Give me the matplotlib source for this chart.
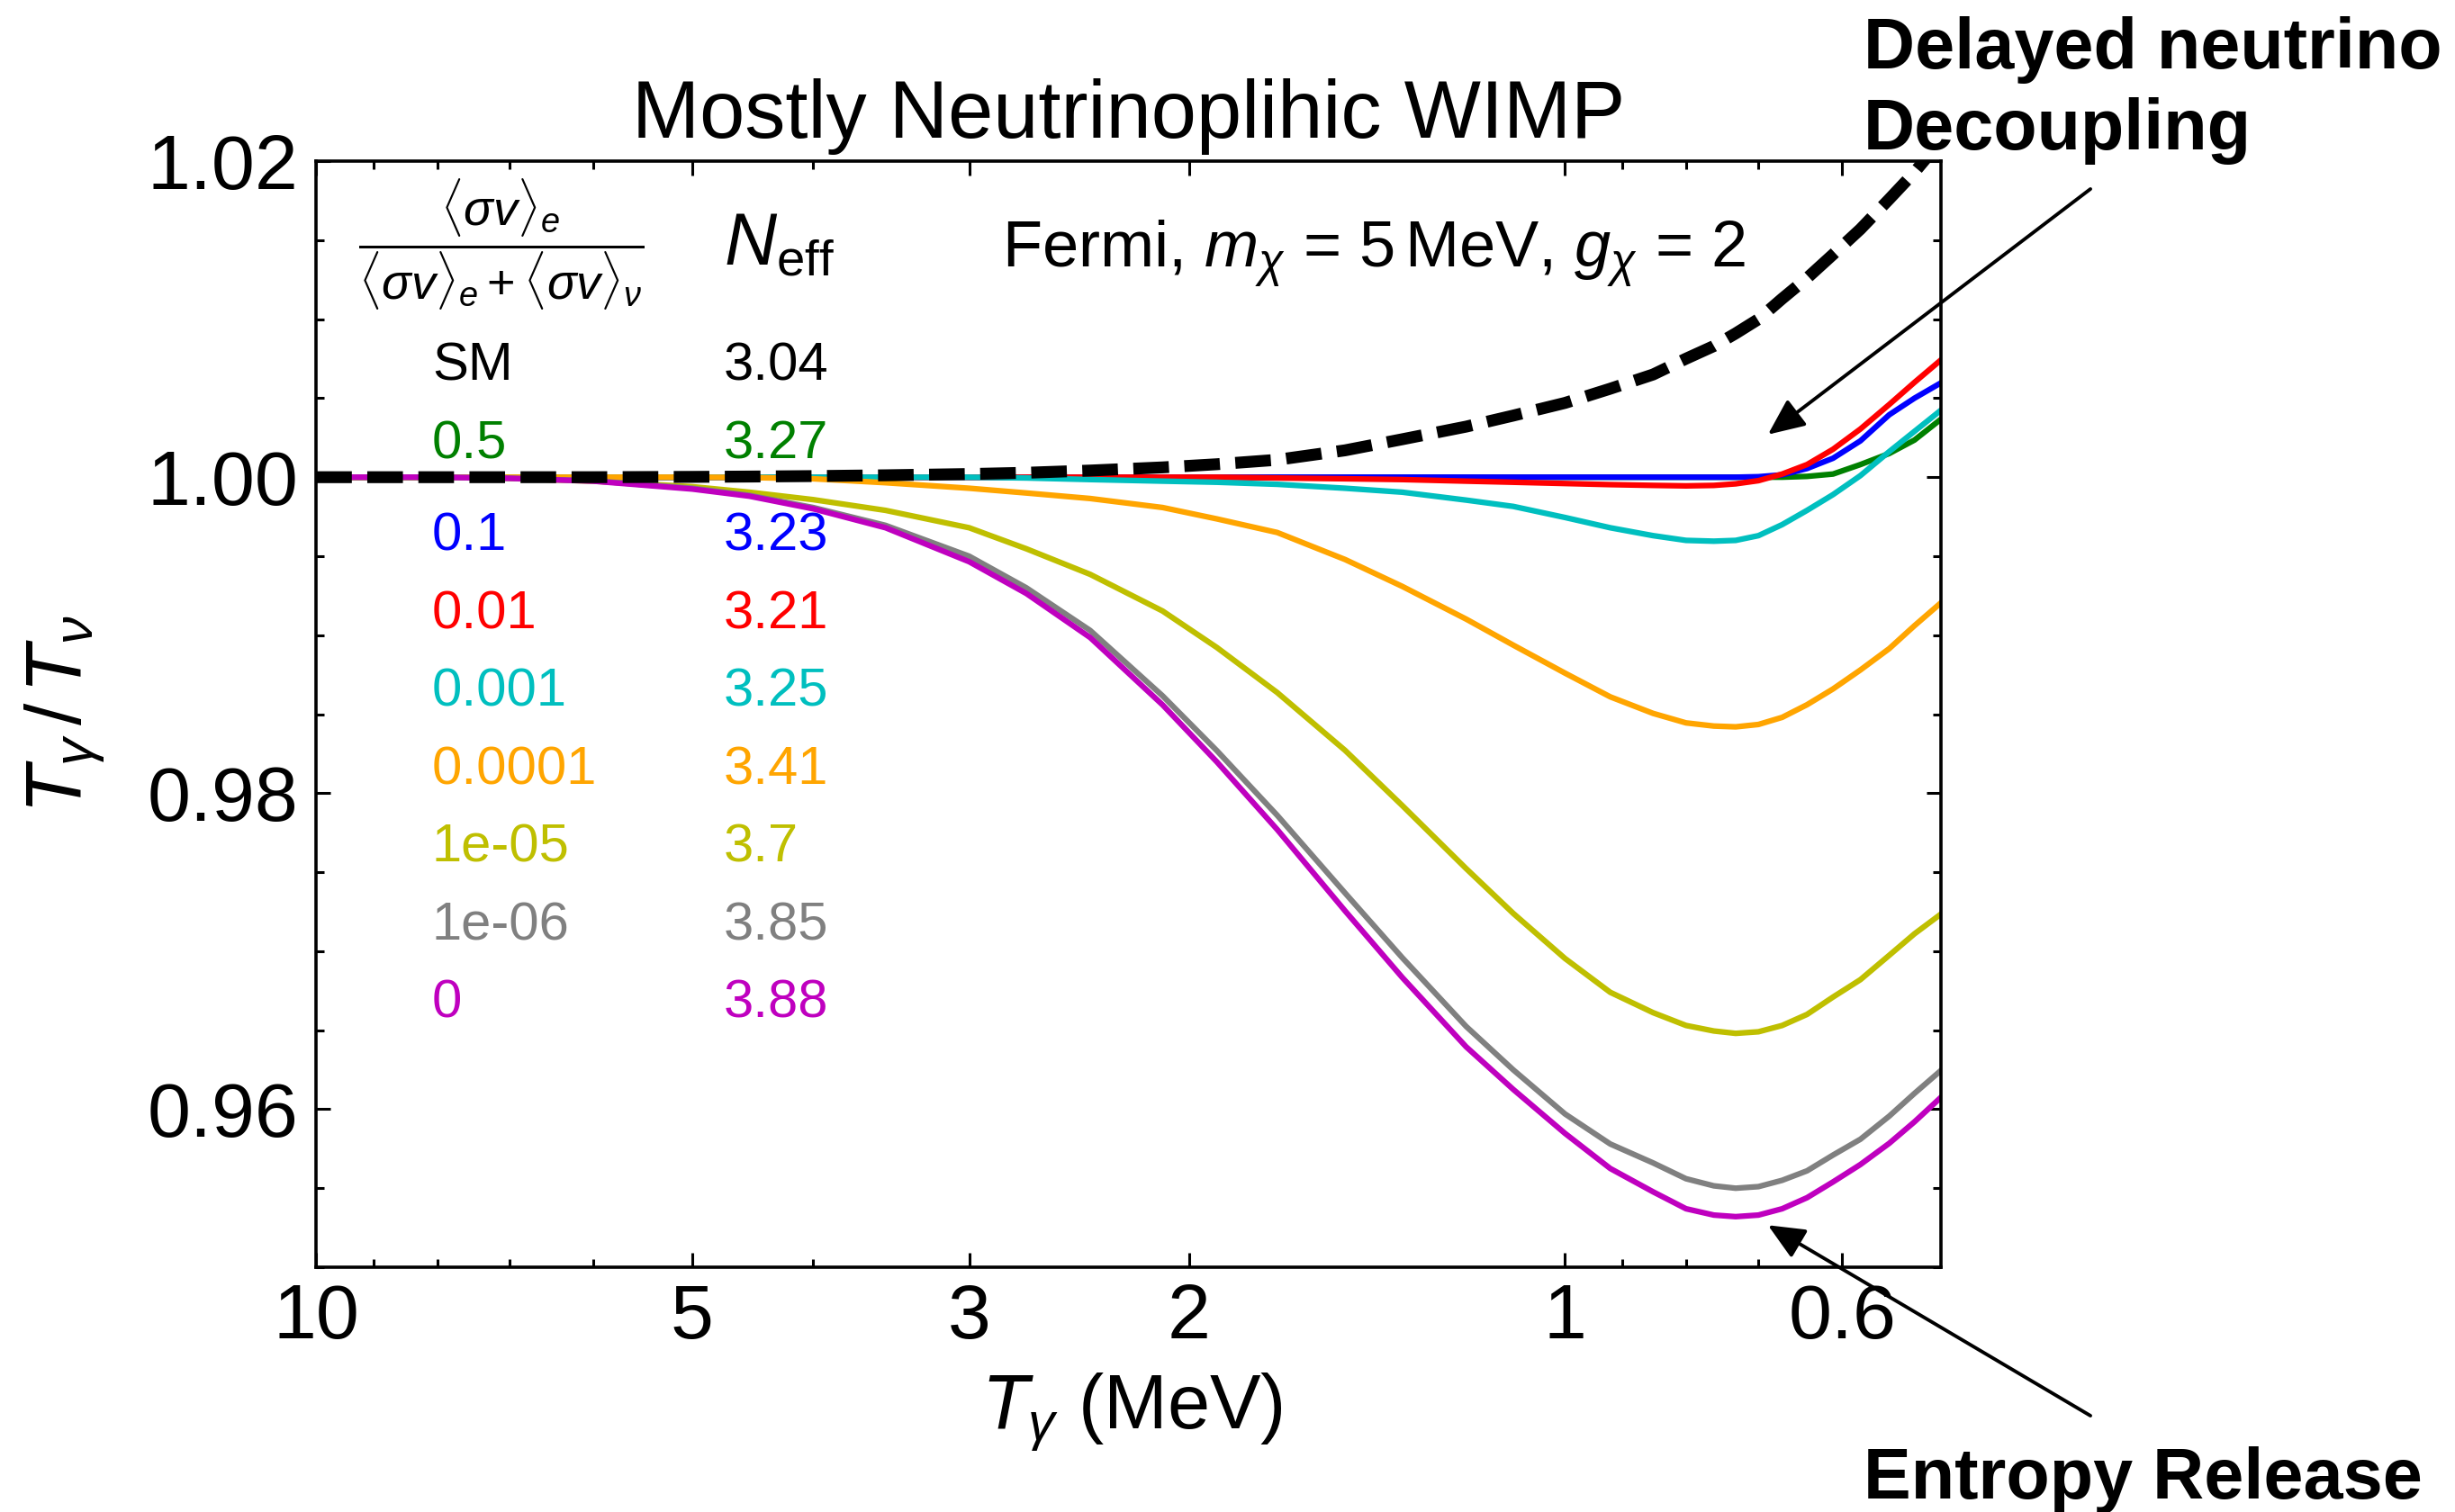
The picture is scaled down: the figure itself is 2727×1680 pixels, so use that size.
import matplotlib
matplotlib.use("Agg")
import matplotlib.pyplot as plt
from matplotlib.ticker import FixedLocator, NullFormatter, MultipleLocator

plt.rcParams["font.family"] = ["Liberation Sans", "DejaVu Sans"]
plt.rcParams["mathtext.fontset"] = "custom"
plt.rcParams["mathtext.rm"] = "Liberation Sans"
plt.rcParams["mathtext.it"] = "Liberation Sans:italic"
plt.rcParams["mathtext.bf"] = "Liberation Sans:bold"

# photon temperature (MeV)
T_gamma = [10, 8, 7, 6, 5, 4.5, 4, 3.5, 3, 2.7, 2.4, 2.1, 1.9, 1.7, 1.5, 1.35,
           1.2, 1.1, 1.0, 0.92, 0.85, 0.8, 0.76, 0.73, 0.7, 0.67, 0.64, 0.61,
           0.58, 0.55, 0.525, 0.5]

ratio_sm = [1.0, 1.0, 1.0, 1.0, 1.00002, 1.00004, 1.00007, 1.00012, 1.0002,
            1.00028, 1.00042, 1.00062, 1.00082, 1.0011, 1.0017, 1.0024, 1.0032,
            1.0039, 1.0047, 1.0056, 1.0065, 1.0075, 1.0083, 1.0091, 1.01,
            1.0113, 1.0126, 1.0141, 1.0157, 1.0176, 1.0193, 1.0213]
ratio_0p5 = [1.0] * 26 + [1.00005, 1.0002, 1.0008, 1.0015, 1.00235, 1.00367]
ratio_0p1 = [1.0] * 24 + [1.00003, 1.00015, 1.00055, 1.0012, 1.0023, 1.00395,
                          1.005, 1.00597]
ratio_1em2 = [1.0] * 13 + [0.99995, 0.9999, 0.99985, 0.99975, 0.99968, 0.9996,
                           0.99953, 0.99948, 0.99945, 0.99948, 0.99958, 0.99978,
                           1.0002, 1.0008, 1.00177, 1.00305, 1.0046, 1.006,
                           1.00742]
ratio_1em3 = [1.0] * 9 + [0.99995, 0.99985, 0.99975, 0.99968, 0.99955, 0.9993,
                          0.99905, 0.99855, 0.99815, 0.99745, 0.9968, 0.9963,
                          0.996, 0.99595, 0.996, 0.9963, 0.997, 0.9979, 0.9989,
                          1.0001, 1.00162, 1.0029, 1.00424]
ratio_1em4 = [1.0] * 5 + [0.99998, 0.9999, 0.99965, 0.9993, 0.999, 0.99865,
                          0.99808, 0.99736, 0.9965, 0.99479, 0.99309, 0.99102,
                          0.98937, 0.9876, 0.9861, 0.98505, 0.98445, 0.98425,
                          0.9842, 0.98435, 0.9848, 0.9856, 0.9866, 0.9878,
                          0.98915, 0.9906, 0.99205]
ratio_1em5 = [1.0, 1.0, 0.99992, 0.99975, 0.9994, 0.99905, 0.99858, 0.9979,
              0.9968, 0.99547, 0.99385, 0.99153, 0.98922, 0.98637, 0.98271,
              0.97922, 0.97523, 0.97239, 0.96954, 0.9674, 0.96611, 0.9653,
              0.96495, 0.9648, 0.9649, 0.9653, 0.966, 0.9671, 0.9682, 0.96974,
              0.9711, 0.97235]
ratio_1em6 = [1.0, 1.0, 0.99993, 0.99977, 0.9993, 0.99885, 0.99808, 0.99695,
              0.995, 0.993, 0.9903, 0.98616, 0.98269, 0.9786, 0.97368, 0.96959,
              0.96524, 0.96249, 0.9597, 0.9578, 0.9566, 0.9556, 0.95515, 0.955,
              0.9551, 0.9555, 0.9561, 0.9571, 0.9581, 0.95956, 0.961, 0.96245]
ratio_zero = [1.0, 1.0, 0.99993, 0.99975, 0.99925, 0.9988, 0.998, 0.9968,
              0.99465, 0.99264, 0.98985, 0.98559, 0.98198, 0.9777, 0.97255,
              0.96834, 0.96395, 0.96125, 0.95847, 0.95625, 0.95477, 0.9537,
              0.9533, 0.9532, 0.9533, 0.9537, 0.9544, 0.9554, 0.9565, 0.95784,
              0.9592, 0.96075]

fractions = ["SM", "0.5", "0.1", "0.01", "0.001", "0.0001", "1e-05", "1e-06", "0"]
neff = ["3.04", "3.27", "3.23", "3.21", "3.25", "3.41", "3.7", "3.85", "3.88"]
series = [ratio_sm, ratio_0p5, ratio_0p1, ratio_1em2, ratio_1em3, ratio_1em4,
          ratio_1em5, ratio_1em6, ratio_zero]
colors = ["k", "g", "b", "r", "c", "orange", "y", "gray", "m"]
row_y = [0.8144, 0.7437, 0.6608, 0.5902, 0.5198, 0.4490, 0.3793, 0.3088, 0.2385]

fig = plt.figure(figsize=(27.27, 16.8), dpi=100)
ax = fig.add_axes([0.1288, 0.1619, 0.6618, 0.7315])

for vals, col in zip(series[1:], colors[1:]):
    ax.plot(T_gamma, vals, color=col, lw=4.5, solid_joinstyle="round")
ax.plot(T_gamma, ratio_sm, color="k", lw=9.5, ls=(0, (3.0, 1.3)), zorder=5)

ax.set_xscale("log")
ax.set_xlim(10, 0.5)
ax.set_ylim(0.95, 1.02)
ax.xaxis.set_major_locator(FixedLocator([10, 5, 3, 2, 1, 0.6]))
ax.set_xticklabels(["10", "5", "3", "2", "1", "0.6"])
ax.xaxis.set_minor_locator(FixedLocator([9, 8, 7, 6, 4, 0.9, 0.8, 0.7]))
ax.xaxis.set_minor_formatter(NullFormatter())
ax.set_yticks([0.96, 0.98, 1.00, 1.02])
ax.set_yticklabels(["0.96", "0.98", "1.00", "1.02"])
ax.yaxis.set_minor_locator(MultipleLocator(0.005))

ax.tick_params(which="both", direction="in", top=True, right=True, width=2.2)
ax.tick_params(which="major", length=11.5, labelsize=62)
ax.tick_params(which="minor", length=6.5)
ax.tick_params(axis="y", pad=14)
ax.tick_params(axis="x", pad=12)
for sp in ax.spines.values():
    sp.set_linewidth(2.6)

ax.set_title("Mostly Neutrinoplihic WIMP", fontsize=65, pad=19)
ax.set_xlabel(r"$T_\gamma$ (MeV)", fontsize=61)
ax.xaxis.set_label_coords(0.502, -0.094)
ax.set_ylabel(r"$T_\gamma\,/\,T_\nu$", fontsize=63)
ax.yaxis.set_label_coords(-0.128, 0.5)

# legend table
ax.text(0.1137, 0.925,
        r"$\dfrac{\langle\sigma v\rangle_e}{\langle\sigma v\rangle_e"
        r"+\langle\sigma v\rangle_\nu}$",
        transform=ax.transAxes, fontsize=39, ha="center", va="center")
ax.text(0.2506, 0.9227, r"$N_{\rm eff}$", transform=ax.transAxes,
        fontsize=58, ha="left", va="center")
for lab, ne, col, yy in zip(fractions, neff, colors, row_y):
    ax.text(0.0713, yy, lab, color=col, fontsize=43, transform=ax.transAxes,
            ha="left", va="center")
    ax.text(0.2506, yy, ne, color=col, fontsize=43, transform=ax.transAxes,
            ha="left", va="center")

ax.text(0.422, 0.9165, r"Fermi, $m_\chi$ = 5$\,$MeV, $g_\chi$ = 2",
        transform=ax.transAxes, fontsize=52, ha="left", va="center")

# annotations
fig.text(0.759, 0.9895, "Delayed neutrino\nDecoupling", fontsize=57,
         fontweight="bold", ha="left", va="top", linespacing=1.27)
fig.text(0.759, 0.0089, "Entropy Release", fontsize=57, fontweight="bold",
         ha="left", va="baseline")
arrow = dict(arrowstyle="-|>,head_length=0.45,head_width=0.2", lw=2.8,
             color="k", mutation_scale=55, shrinkA=0, shrinkB=0)
ax.annotate("", xy=(0.6878, 1.0027), xycoords="data",
            xytext=(0.8515, 1 - 210 / 1680), textcoords="figure fraction",
            arrowprops=arrow, annotation_clip=False)
ax.annotate("", xy=(0.6878, 0.95266), xycoords="data",
            xytext=(0.8515, 1 - 1573 / 1680), textcoords="figure fraction",
            arrowprops=arrow, annotation_clip=False)

fig.savefig("out.png", dpi=100)
